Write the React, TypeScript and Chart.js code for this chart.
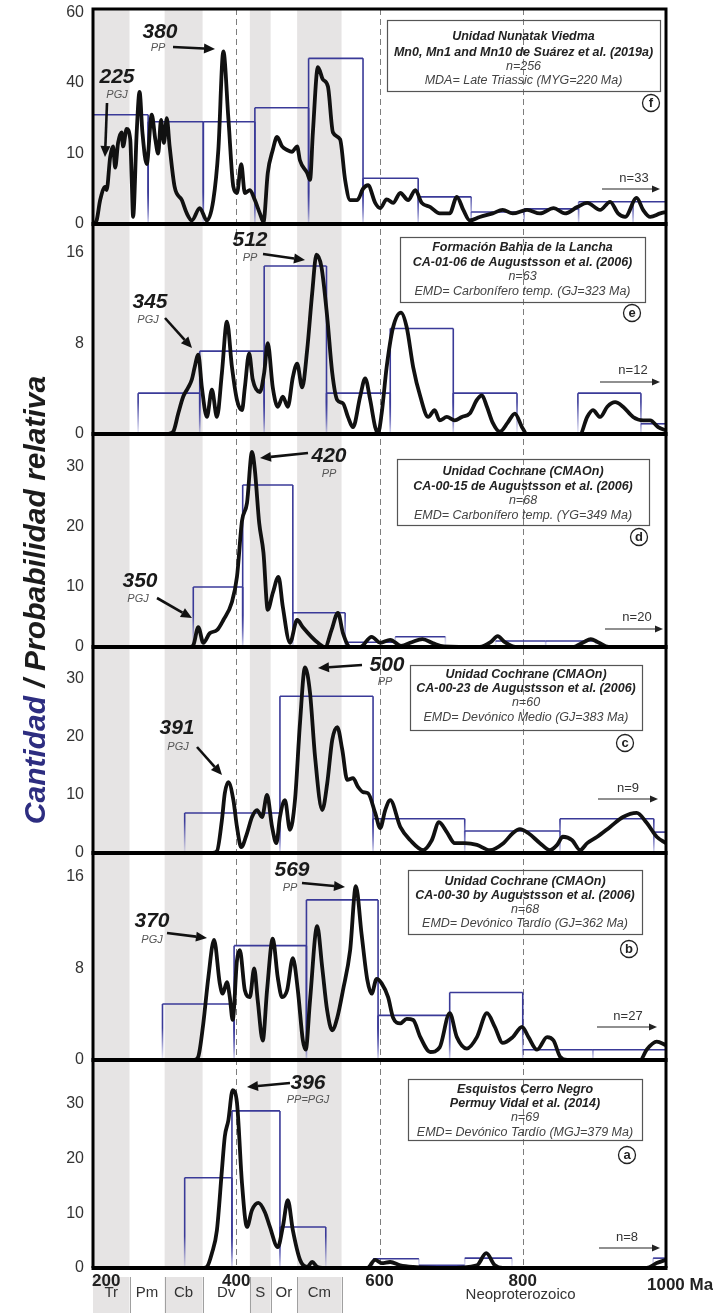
import React, { useEffect, useRef } from 'react';
import { Chart, registerables } from 'chart.js';

Chart.register(...registerables);

const FONT = '"Liberation Sans", Arial, Helvetica, sans-serif';

// ---------------- X axis / time scale ----------------
const X_MIN = 200;
const X_MAX = 1000;
const X_TICKS = [200, 400, 600, 800, 1000];
const X_TICK_LABELS = ['200', '400', '600', '800', '1000 Ma'];
const DASHED_AGES = [400, 600, 800];
const PERIOD_EDGES = [200, 251, 300, 353, 419, 448, 485, 547];
const PERIOD_NAMES = ['Tr', 'Pm', 'Cb', 'Dv', 'S', 'Or', 'Cm'];
const PERIOD_GRAY = [true, false, true, false, true, false, true];
const ERA_LABEL = 'Neoproterozoico';
const ERA_AGE = 797;

const TITLE_PARTS = ['Cantidad', ' / Probabilidad relativa'];

// ---------------- Panel f ----------------
const F_TICKS = [0, 20, 40, 60];
const F_TICK_LABELS = ['0', '10', '40', '60'];
const F_HIST_EDGES = [200, 277, 354, 426, 501, 577, 654, 728, 802, 878, 954, 1000];
const F_HIST_COUNTS = [31, 29, 29, 33, 47, 13, 7.7, 3.4, 4.3, 6.3, 6.3];
const F_PDP: [number, number][] = [
  [200, 0], [205, 1], [210, 6.8], [217, 10.5], [219, 9.6], [224, 19], [228, 22], [231, 16], [235, 23], [240, 26],
  [242, 22], [247, 27], [252, 24], [254, 13], [256, 2], [261, 26], [265, 37.5], [269, 26], [275, 17], [282, 31],
  [287, 24], [291, 20], [295, 29.5], [299, 23], [303, 30], [307, 22], [314, 10.5], [324, 6.8], [331, 3], [338, 1],
  [349, 4.5], [359, 1], [368, 6.8], [375, 21], [382, 49], [389, 30], [396, 10.5], [401, 8.8], [407, 17], [412, 8.8],
  [419, 9.6], [426, 6.8], [433, 3], [438, 0.6], [444, 14.5], [451, 21], [457, 24.7], [464, 22], [471, 21], [478, 20.5],
  [485, 22], [489, 18], [499, 14.5], [503, 12.5], [507, 26], [514, 44.5], [521, 41], [528, 39], [535, 26], [545, 24],
  [552, 12.5], [559, 6.8], [569, 6.8], [577, 10], [584, 11], [594, 6], [601, 4.5], [610, 7], [619, 6], [629, 8.8],
  [640, 6.8], [650, 9.6], [659, 6], [671, 4.8], [684, 3], [698, 3], [708, 7.7], [717, 4], [726, 1], [740, 2],
  [758, 3], [772, 4], [786, 3], [806, 4], [824, 3], [843, 4.5], [859, 3], [876, 4.8], [890, 6], [908, 4],
  [922, 6.3], [933, 3], [943, 2], [959, 7.4], [968, 4], [978, 2], [992, 3], [1000, 3.4],
];
const F_BOX = ['Unidad Nunatak Viedma', 'Mn0, Mn1 and Mn10 de Suárez et al. (2019a)', 'n=256', 'MDA= Late Triassic (MYG=220 Ma)'];
const F_PEAKS = [['380', 'PP'], ['225', 'PGJ']];
const F_N_OUT = 'n=33';

// ---------------- Panel e ----------------
const E_TICKS = [0, 8, 16];
const E_TICK_LABELS = ['0', '8', '16'];
const E_HIST_EDGES = [263, 349, 439, 526, 615, 703, 792, 877, 965, 1000];
const E_HIST_COUNTS = [3.6, 7.3, 14.8, 3.6, 9.3, 3.6, 0, 3.6, 0.9];
const E_PDP: [number, number][] = [
  [305, 0], [312, 0.2], [319, 1.8], [326, 3.3], [333, 4.1], [338, 4.8], [342, 5.9], [347, 7], [352, 4.1], [359, 1.5],
  [366, 3.9], [373, 1.5], [380, 5.4], [387, 9.9], [394, 5.9], [401, 3], [408, 2.1], [412, 4.1], [418, 7.1], [423, 4.8],
  [433, 3.7], [439, 5.4], [444, 8], [451, 4.1], [458, 2.4], [465, 3.3], [472, 2.4], [479, 5], [485, 6.2], [492, 4.1],
  [499, 7.4], [506, 12.4], [512, 15.8], [519, 14.7], [527, 10.3], [534, 5.4], [541, 3], [549, 2.7], [556, 1.5], [563, 0.6],
  [573, 3.3], [580, 4.9], [587, 3], [594, 0.6], [598, 0.1], [603, 1.8], [610, 5.9], [619, 9.4], [630, 10.7], [638, 9.4],
  [647, 5.9], [657, 3.3], [668, 1.5], [677, 2.1], [684, 1.2], [694, 1.5], [705, 1.2], [715, 1.5], [726, 1.8], [736, 3],
  [743, 3.4], [750, 2.4], [758, 1], [768, 0.2], [779, 1], [789, 1.8], [799, 0.6], [806, 0], [880, 0], [890, 1.5],
  [898, 2.1], [908, 1.5], [918, 2.4], [929, 2.8], [940, 2.4], [954, 1.5], [968, 1.2], [978, 1.2], [989, 0.6], [1000, 0.3],
];
const E_BOX = ['Formación Bahia de la Lancha', 'CA-01-06 de Augustsson et al. (2006)', 'n=63', 'EMD= Carbonífero temp. (GJ=323 Ma)'];
const E_PEAKS = [['512', 'PP'], ['345', 'PGJ']];
const E_N_OUT = 'n=12';

// ---------------- Panel d ----------------
const D_TICKS = [0, 10, 20, 30];
const D_TICK_LABELS = ['0', '10', '20', '30'];
const D_HIST_EDGES = [340, 409, 479, 552, 622, 692, 762, 832, 902];
const D_HIST_COUNTS = [10, 27, 5.7, 0.8, 1.7, 0, 1, 1];
const D_PDP: [number, number][] = [
  [335, 0], [340, 0.3], [347, 3.3], [354, 0.7], [363, 2.3], [373, 2.8], [382, 4.5], [394, 7.5], [401, 11.7], [408, 21],
  [415, 24], [422, 32.5], [426, 29.5], [432, 20.7], [438, 15.7], [444, 6.2], [451, 9], [459, 11.7], [465, 6.7], [475, 0.7],
  [485, 4.5], [493, 3.3], [505, 1.7], [514, 0.7], [524, 0], [533, 2.8], [542, 5.7], [549, 2.3], [559, 0], [573, 0],
  [589, 1.7], [601, 0.7], [615, 1.2], [630, 0.2], [645, 0.8], [660, 1.3], [675, 0.6], [690, 0.1], [740, 0], [755, 0.8],
  [765, 1.8], [775, 0.8], [790, 0], [870, 0], [885, 0.8], [895, 1.3], [905, 0.8], [920, 0], [1000, 0],
];
const D_BOX = ['Unidad Cochrane (CMAOn)', 'CA-00-15 de Augustsson et al. (2006)', 'n=68', 'EMD= Carbonífero temp. (YG=349 Ma)'];
const D_PEAKS = [['420', 'PP'], ['350', 'PGJ']];
const D_N_OUT = 'n=20';

// ---------------- Panel c ----------------
const C_TICKS = [0, 10, 20, 30];
const C_TICK_LABELS = ['0', '10', '20', '30'];
const C_HIST_EDGES = [328, 461, 591, 719, 852, 983, 1000];
const C_HIST_COUNTS = [6.9, 27, 5.9, 3.8, 5.9, 3.6];
const C_PDP: [number, number][] = [
  [366, 0], [373, 0.3], [380, 5.7], [384, 10.3], [389, 12.2], [396, 9.1], [401, 4.5], [407, 1], [415, 3.4], [422, 6.2],
  [429, 7.4], [436, 6.2], [443, 10], [450, 4.5], [456, 1.7], [461, 6.2], [468, 9.1], [475, 4], [482, 9.1], [489, 22.4],
  [496, 32], [503, 27.6], [510, 16.6], [520, 7.4], [527, 12], [534, 19.5], [541, 21.7], [548, 17.8], [555, 12.6], [563, 12.9],
  [570, 11.4], [577, 10.5], [584, 10.3], [594, 6.9], [601, 4.3], [608, 7.4], [615, 9.1], [629, 4.5], [643, 2.2], [661, 0.5],
  [673, 2.2], [683, 5.3], [694, 3.6], [705, 1.7], [719, 1.7], [736, 1.4], [754, 0.5], [773, 1.7], [786, 3.4], [796, 4.1],
  [808, 3.4], [824, 1.7], [838, 0.5], [848, 1.4], [856, 2.8], [869, 2.2], [880, 0.5], [890, 1.7], [904, 2.8], [922, 4.5],
  [940, 6.2], [959, 6.9], [973, 5.2], [987, 2.8], [1000, 1.7],
];
const C_BOX = ['Unidad Cochrane (CMAOn)', 'CA-00-23 de Augustsson et al. (2006)', 'n=60', 'EMD= Devónico Medio (GJ=383 Ma)'];
const C_PEAKS = [['500', 'PP'], ['391', 'PGJ']];
const C_N_OUT = 'n=9';

// ---------------- Panel b ----------------
const B_TICKS = [0, 8, 16];
const B_TICK_LABELS = ['0', '8', '16'];
const B_HIST_EDGES = [297, 397, 498, 598, 698, 800, 898, 1000];
const B_HIST_COUNTS = [4.9, 10, 14, 3.9, 5.9, 0.9, 0.9];
const B_PDP: [number, number][] = [
  [342, 0], [347, 0.3], [354, 3.2], [361, 7.2], [369, 10.5], [377, 6.7], [381, 5.8], [387, 6.8], [391, 5.5], [395, 3.5],
  [401, 8.7], [405, 9.6], [412, 6.1], [419, 5.5], [425, 8], [430, 5.2], [437, 1.7], [443, 6.1], [451, 10.6], [458, 7.2],
  [464, 5.5], [471, 6.1], [479, 8.9], [486, 6.1], [493, 1.7], [497, 0.9], [503, 5.2], [513, 11.7], [520, 8.1], [527, 4.3],
  [534, 2.6], [541, 3.7], [549, 6.1], [559, 9.6], [567, 15.2], [575, 11], [583, 7], [589, 5.8], [596, 7.1], [603, 6.7],
  [612, 5.5], [619, 3.7], [629, 3.2], [638, 3.6], [647, 3.5], [657, 2], [671, 0.7], [684, 1.1], [698, 4.1], [708, 2],
  [722, 1], [736, 2], [750, 4.1], [761, 2.9], [772, 1.5], [786, 2], [799, 2.9], [808, 2], [820, 0.9], [834, 2],
  [843, 1.7], [852, 0.3], [862, 0], [964, 0], [973, 0.9], [987, 1.6], [1000, 1.3],
];
const B_BOX = ['Unidad Cochrane (CMAOn)', 'CA-00-30 by Augustsson et al. (2006)', 'n=68', 'EMD= Devónico Tardío (GJ=362 Ma)'];
const B_PEAKS = [['569', 'PP'], ['370', 'PGJ']];
const B_N_OUT = 'n=27';

// ---------------- Panel a ----------------
const A_TICKS = [0, 10, 20, 30];
const A_TICK_LABELS = ['0', '10', '20', '30'];
const A_HIST_EDGES = [328, 394, 461, 525, 591, 655, 719, 785, 850, 916, 982, 1000];
const A_HIST_COUNTS = [16.5, 28.7, 7.5, 0, 1.7, 0.5, 1.8, 0, 0, 0, 1.8];
const A_PDP: [number, number][] = [
  [354, 0], [359, 0.2], [366, 2.7], [373, 6.9], [380, 17.9], [384, 24], [389, 27], [395, 32.5], [401, 30.2], [408, 15.5],
  [415, 7.5], [422, 10.6], [431, 11.9], [440, 10.2], [447, 7.5], [458, 3.8], [465, 7.5], [472, 12.4], [479, 6.9], [489, 1.5],
  [499, 0.2], [506, 1.1], [513, 0.2], [520, 0], [583, 0], [594, 1.5], [603, 0.9], [615, 1.1], [629, 0.5], [647, 0.2],
  [694, 0], [736, 0.5], [749, 2.7], [761, 0.5], [772, 0], [973, 0], [987, 0.9], [1000, 1.5],
];
const A_BOX = ['Esquistos Cerro Negro', 'Permuy Vidal et al. (2014)', 'n=69', 'EMD= Devónico Tardío (MGJ=379 Ma)'];
const A_PEAKS = [['396', 'PP=PGJ']];
const A_N_OUT = 'n=8';

// ---------------- styles / layout ----------------
const HIST_COLOR = '#3a3a98';
const CURVE_COLOR = '#111111';
const BAND_COLOR = '#e6e4e4';
const TITLE_BLUE = '#2d2d80';

type Deco = {
  box: [number, number, number, number];
  lineY: number[];
  letterAt: [number, number];
  nAt: [number, number];
  nArrow: [number, number, number];
  peaks: { num: [number, number]; sub: [number, number]; arrow: [number, number, number, number] }[];
};

const DECO: Record<string, Deco> = {
  f: { box: [294, 11, 273, 71], lineY: [28, 44, 58, 72], letterAt: [558, 94], nAt: [541, 169], nArrow: [509, 567, 180],
    peaks: [{ num: [67, 23], sub: [65, 39], arrow: [80, 38, 122, 40] }, { num: [24, 68], sub: [24, 86], arrow: [14, 94, 12, 148] }] },
  e: { box: [307, 13, 245, 65], lineY: [24, 39, 53, 68], letterAt: [539, 89], nAt: [540, 146], nArrow: [507, 567, 158],
    peaks: [{ num: [157, 16], sub: [157, 34], arrow: [170, 30, 212, 36] }, { num: [57, 78], sub: [55, 96], arrow: [72, 94, 99, 124] }] },
  d: { box: [304, 25, 252, 66], lineY: [38, 53, 67, 82], letterAt: [546, 103], nAt: [544, 183], nArrow: [512, 570, 195],
    peaks: [{ num: [236, 22], sub: [236, 40], arrow: [215, 19, 167, 24] }, { num: [47, 147], sub: [45, 165], arrow: [64, 164, 99, 184] }] },
  c: { box: [317, 18, 232, 65], lineY: [28, 42, 56, 71], letterAt: [532, 96], nAt: [535, 141], nArrow: [505, 565, 152],
    peaks: [{ num: [294, 18], sub: [292, 35], arrow: [269, 18, 225, 21] }, { num: [84, 81], sub: [85, 100], arrow: [104, 100, 129, 128] }] },
  b: { box: [315, 17, 234, 64], lineY: [29, 43, 57, 71], letterAt: [536, 96], nAt: [535, 163], nArrow: [504, 564, 174],
    peaks: [{ num: [199, 17], sub: [197, 35], arrow: [209, 30, 252, 34] }, { num: [59, 68], sub: [59, 87], arrow: [74, 80, 114, 85] }] },
  a: { box: [315, 19, 234, 61], lineY: [30, 44, 58, 73], letterAt: [534, 95], nAt: [534, 177], nArrow: [506, 567, 188],
    peaks: [{ num: [215, 23], sub: [215, 40], arrow: [197, 23, 154, 27] }] },
};

const PANELS = [
  { key: 'f', id: 'yF', weight: 215, order: 6, max: 61, ticks: F_TICKS, tickLabels: F_TICK_LABELS, edges: F_HIST_EDGES, counts: F_HIST_COUNTS, pdp: F_PDP, box: F_BOX, peaks: F_PEAKS, nOut: F_N_OUT },
  { key: 'e', id: 'yE', weight: 210, order: 5, max: 18.5, ticks: E_TICKS, tickLabels: E_TICK_LABELS, edges: E_HIST_EDGES, counts: E_HIST_COUNTS, pdp: E_PDP, box: E_BOX, peaks: E_PEAKS, nOut: E_N_OUT },
  { key: 'd', id: 'yD', weight: 213, order: 4, max: 35.5, ticks: D_TICKS, tickLabels: D_TICK_LABELS, edges: D_HIST_EDGES, counts: D_HIST_COUNTS, pdp: D_PDP, box: D_BOX, peaks: D_PEAKS, nOut: D_N_OUT },
  { key: 'c', id: 'yC', weight: 206, order: 3, max: 35.5, ticks: C_TICKS, tickLabels: C_TICK_LABELS, edges: C_HIST_EDGES, counts: C_HIST_COUNTS, pdp: C_PDP, box: C_BOX, peaks: C_PEAKS, nOut: C_N_OUT },
  { key: 'b', id: 'yB', weight: 207, order: 2, max: 18.1, ticks: B_TICKS, tickLabels: B_TICK_LABELS, edges: B_HIST_EDGES, counts: B_HIST_COUNTS, pdp: B_PDP, box: B_BOX, peaks: B_PEAKS, nOut: B_N_OUT },
  { key: 'a', id: 'yA', weight: 208, order: 1, max: 38, ticks: A_TICKS, tickLabels: A_TICK_LABELS, edges: A_HIST_EDGES, counts: A_HIST_COUNTS, pdp: A_PDP, box: A_BOX, peaks: A_PEAKS, nOut: A_N_OUT },
];

function histPoints(edges: number[], counts: number[]) {
  const pts: { x: number; y: number }[] = [];
  for (let i = 0; i < counts.length; i++) {
    if (!counts[i]) continue;
    pts.push({ x: edges[i], y: 0 }, { x: edges[i], y: counts[i] }, { x: edges[i + 1], y: counts[i] }, { x: edges[i + 1], y: 0 });
  }
  return pts;
}

function histSegmentColor(id: string) {
  return (ctx: any) => {
    const p0 = ctx.p0, p1 = ctx.p1;
    if (!p0 || !p1 || Math.abs(p0.x - p1.x) > 0.5) return undefined;
    const ch = ctx.chart;
    const s = ch && ch.scales[id];
    if (!s) return undefined;
    const g = ch.ctx.createLinearGradient(0, s.bottom - 32, 0, s.bottom);
    g.addColorStop(0, HIST_COLOR);
    g.addColorStop(1, 'rgba(80,80,180,0.08)');
    return g;
  };
}

function drawArrow(ctx: CanvasRenderingContext2D, x0: number, y0: number, x1: number, y1: number, lw: number, head: number, half: number) {
  const ang = Math.atan2(y1 - y0, x1 - x0);
  const bx = x1 - Math.cos(ang) * head;
  const by = y1 - Math.sin(ang) * head;
  ctx.lineWidth = lw;
  ctx.beginPath();
  ctx.moveTo(x0, y0);
  ctx.lineTo(bx, by);
  ctx.stroke();
  ctx.beginPath();
  ctx.moveTo(x1, y1);
  ctx.lineTo(bx + Math.sin(ang) * half, by - Math.cos(ang) * half);
  ctx.lineTo(bx - Math.sin(ang) * half, by + Math.cos(ang) * half);
  ctx.closePath();
  ctx.fill();
}

const decorPlugin = {
  id: 'decor',
  beforeDraw(chart: any) {
    const { ctx, chartArea: ca, scales } = chart;
    const xs = scales.x;
    ctx.save();
    ctx.fillStyle = '#ffffff';
    ctx.fillRect(0, 0, chart.width, chart.height);
    const labelTop = ca.bottom + 9;
    for (let i = 0; i < PERIOD_NAMES.length; i++) {
      if (!PERIOD_GRAY[i]) continue;
      const x0 = xs.getPixelForValue(PERIOD_EDGES[i]);
      const x1 = xs.getPixelForValue(PERIOD_EDGES[i + 1]);
      ctx.fillStyle = BAND_COLOR;
      ctx.fillRect(x0, ca.top, x1 - x0, ca.bottom - ca.top);
      ctx.fillRect(x0, labelTop, x1 - x0, chart.height - labelTop);
    }
    ctx.strokeStyle = '#a0a0a0';
    ctx.lineWidth = 1;
    for (let i = 1; i < PERIOD_EDGES.length; i++) {
      const x = Math.round(xs.getPixelForValue(PERIOD_EDGES[i])) + 0.5;
      ctx.beginPath();
      ctx.moveTo(x, labelTop);
      ctx.lineTo(x, chart.height);
      ctx.stroke();
    }
    ctx.setLineDash([6, 4]);
    ctx.strokeStyle = '#7d7d7d';
    for (const a of DASHED_AGES) {
      const x = Math.round(xs.getPixelForValue(a)) + 0.5;
      ctx.beginPath();
      ctx.moveTo(x, ca.top);
      ctx.lineTo(x, ca.bottom);
      ctx.stroke();
    }
    ctx.restore();
  },
  afterDraw(chart: any) {
    const { ctx, chartArea: ca, scales } = chart;
    const xs = scales.x;
    ctx.save();
    // frame
    ctx.strokeStyle = '#000';
    ctx.lineWidth = 4;
    for (const p of PANELS) {
      const s = scales[p.id];
      ctx.beginPath();
      ctx.moveTo(ca.left - 1.5, s.bottom);
      ctx.lineTo(ca.right + 1.5, s.bottom);
      ctx.stroke();
    }
    ctx.lineWidth = 3;
    ctx.beginPath();
    ctx.moveTo(ca.left - 1.5, ca.top);
    ctx.lineTo(ca.right + 1.5, ca.top);
    ctx.moveTo(ca.left, ca.top);
    ctx.lineTo(ca.left, ca.bottom);
    ctx.moveTo(ca.right, ca.top);
    ctx.lineTo(ca.right, ca.bottom);
    ctx.stroke();

    // panel annotations
    for (const p of PANELS) {
      const s = scales[p.id];
      const L = ca.left;
      const T = s.top;
      const d = DECO[p.key];
      // box
      ctx.strokeStyle = '#555';
      ctx.lineWidth = 1.2;
      ctx.strokeRect(L + d.box[0] + 0.5, T + d.box[1] + 0.5, d.box[2], d.box[3]);
      const cx = L + d.box[0] + d.box[2] / 2;
      ctx.textAlign = 'center';
      ctx.textBaseline = 'middle';
      p.box.forEach((line, i) => {
        ctx.font = (i < 2 ? 'italic bold ' : 'italic ') + '12.5px ' + FONT;
        ctx.fillStyle = i < 2 ? '#222' : '#444';
        ctx.fillText(line, cx, T + d.lineY[i]);
      });
      // circled letter
      ctx.beginPath();
      ctx.lineWidth = 1.3;
      ctx.strokeStyle = '#222';
      ctx.arc(L + d.letterAt[0], T + d.letterAt[1], 8.5, 0, Math.PI * 2);
      ctx.stroke();
      ctx.font = 'bold 13px ' + FONT;
      ctx.fillStyle = '#222';
      ctx.fillText(p.key, L + d.letterAt[0], T + d.letterAt[1] + 0.5);
      // n= outside arrow
      ctx.font = '13px ' + FONT;
      ctx.fillStyle = '#333';
      ctx.fillText(p.nOut, L + d.nAt[0], T + d.nAt[1]);
      ctx.strokeStyle = '#222';
      ctx.fillStyle = '#222';
      drawArrow(ctx, L + d.nArrow[0], T + d.nArrow[2], L + d.nArrow[1], T + d.nArrow[2], 1.2, 8, 3.5);
      // peaks
      p.peaks.forEach((pk, i) => {
        const dd = d.peaks[i];
        ctx.font = 'italic bold 21px ' + FONT;
        ctx.fillStyle = '#1a1a1a';
        ctx.fillText(pk[0], L + dd.num[0], T + dd.num[1]);
        ctx.font = 'italic 11px ' + FONT;
        ctx.fillStyle = '#555';
        ctx.fillText(pk[1], L + dd.sub[0], T + dd.sub[1]);
        ctx.strokeStyle = '#111';
        ctx.fillStyle = '#111';
        drawArrow(ctx, L + dd.arrow[0], T + dd.arrow[1], L + dd.arrow[2], T + dd.arrow[3], 2.6, 11, 5);
      });
    }

    // x tick labels
    ctx.textBaseline = 'middle';
    ctx.font = 'bold 17px ' + FONT;
    ctx.fillStyle = '#222';
    X_TICKS.forEach((t, i) => {
      const x = xs.getPixelForValue(t);
      if (i === 0) {
        ctx.textAlign = 'left';
        ctx.fillText(X_TICK_LABELS[i], x - 1, ca.bottom + 13);
      } else if (i === X_TICKS.length - 1) {
        ctx.textAlign = 'left';
        ctx.fillText(X_TICK_LABELS[i], x - 19, ca.bottom + 17);
      } else {
        ctx.textAlign = 'center';
        ctx.fillText(X_TICK_LABELS[i], x, ca.bottom + 13);
      }
    });
    // period labels
    ctx.font = '15px ' + FONT;
    ctx.fillStyle = '#333';
    ctx.textAlign = 'center';
    for (let i = 0; i < PERIOD_NAMES.length; i++) {
      const x0 = xs.getPixelForValue(PERIOD_EDGES[i]);
      const x1 = xs.getPixelForValue(PERIOD_EDGES[i + 1]);
      ctx.fillText(PERIOD_NAMES[i], (x0 + x1) / 2, ca.bottom + 25);
    }
    ctx.fillText(ERA_LABEL, xs.getPixelForValue(ERA_AGE), ca.bottom + 27);

    // y title
    ctx.translate(37, 600);
    ctx.rotate(-Math.PI / 2);
    ctx.font = 'italic bold 30px ' + FONT;
    ctx.textAlign = 'left';
    const w1 = ctx.measureText(TITLE_PARTS[0]).width;
    const w2 = ctx.measureText(TITLE_PARTS[1]).width;
    const x0 = -(w1 + w2) / 2;
    ctx.fillStyle = TITLE_BLUE;
    ctx.fillText(TITLE_PARTS[0], x0, 0);
    ctx.fillStyle = '#1c1c1c';
    ctx.fillText(TITLE_PARTS[1], x0 + w1, 0);
    ctx.restore();
  },
};

function buildConfig(): any {
  const datasets: any[] = [];
  const scales: any = {
    x: { type: 'linear', min: X_MIN, max: X_MAX, display: false },
  };
  for (const p of PANELS) {
    datasets.push({
      type: 'line',
      data: p.pdp.map(([x, y]) => ({ x, y })),
      yAxisID: p.id,
      borderColor: CURVE_COLOR,
      borderWidth: 3.8,
      pointRadius: 0,
      cubicInterpolationMode: 'monotone',
      borderJoinStyle: 'round',
      borderCapStyle: 'round',
      fill: false,
      order: 0,
    });
    datasets.push({
      type: 'line',
      data: histPoints(p.edges, p.counts),
      yAxisID: p.id,
      borderColor: HIST_COLOR,
      borderWidth: 1.6,
      pointRadius: 0,
      tension: 0,
      fill: false,
      order: 1,
      segment: { borderColor: histSegmentColor(p.id) },
    });
    scales[p.id] = {
      type: 'linear',
      position: 'left',
      stack: 'panels',
      stackWeight: p.weight,
      weight: p.order,
      min: 0,
      max: p.max,
      afterBuildTicks: (s: any) => {
        s.ticks = p.ticks.map((v) => ({ value: v }));
      },
      afterFit: (s: any) => {
        s.width = 93;
        s.paddingTop = 0;
        s.paddingBottom = 0;
      },
      grid: { display: false, drawTicks: false },
      border: { display: false },
      ticks: {
        autoSkip: false,
        padding: 9,
        color: '#333',
        font: { family: FONT, size: 16 },
        callback: (_v: any, i: number) => p.tickLabels[i],
      },
    };
  }
  return {
    type: 'line',
    data: { datasets },
    options: {
      responsive: false,
      maintainAspectRatio: false,
      animation: false,
      events: [],
      layout: { padding: { left: 0, right: 47, top: 9, bottom: 45 } },
      plugins: { legend: { display: false }, tooltip: { enabled: false } },
      scales,
    },
    plugins: [decorPlugin],
  };
}

export default function App() {
  const ref = useRef<HTMLCanvasElement>(null);
  useEffect(() => {
    document.body.style.margin = '0';
    if (!ref.current) return;
    const chart = new Chart(ref.current, buildConfig());
    return () => chart.destroy();
  }, []);
  return (
    <div style={{ width: 713, height: 1313 }}>
      <canvas ref={ref} width={713} height={1313} style={{ display: 'block' }} />
    </div>
  );
}
